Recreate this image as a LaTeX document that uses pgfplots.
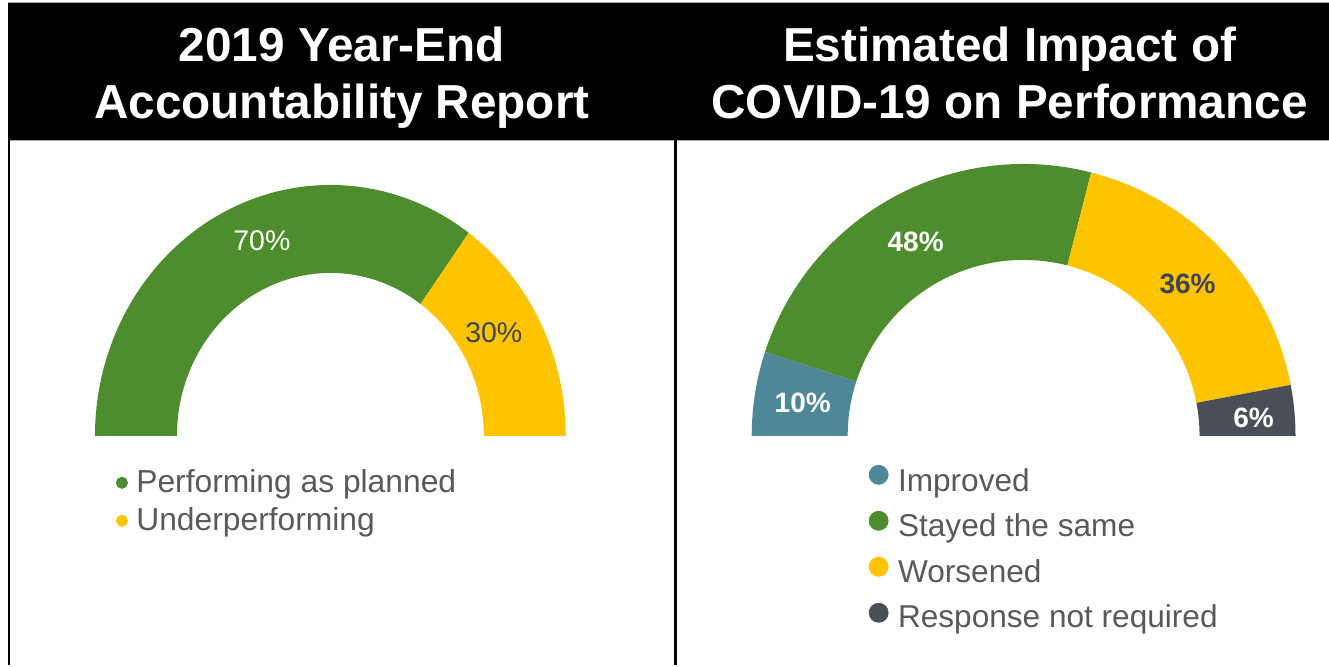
\documentclass[border=0pt]{standalone}
\usepackage{fontspec}
\setmainfont{Liberation Sans}
\usepackage{pgfplots}
\pgfplotsset{compat=1.18}
\usepackage{pgfplotstable}

\definecolor{cgreen}{RGB}{78,141,46}
\definecolor{cyellow}{RGB}{255,196,0}
\definecolor{cteal}{RGB}{77,135,152}
\definecolor{cdark}{RGB}{74,78,86}
\definecolor{clabel}{RGB}{64,68,80}
\definecolor{clegend}{RGB}{89,89,89}

% Data (percent shares)
% Left: Performing as planned 70, Underperforming 30
% Right: Improved 10, Stayed the same 48, Worsened 36, Response not required 6

% ring segment: cx cy rxo ryo rxi ryi p0 p1 color  (p0..p1 cumulative percent, 0% at left)
\newcommand{\ringseg}[9]{%
 \addplot[fill=#9, draw=none, domain=0:200, samples=201, variable=\t]
 ({#1 + ((\t<=100)*#3 + (\t>100)*#5) * cos((\t<=100)*(180-1.8*#7 + 1.8*(#7-#8)*\t/100) + (\t>100)*(180-1.8*#8 + 1.8*(#8-#7)*(\t-101)/99))},
  {#2 + ((\t<=100)*#4 + (\t>100)*#6) * sin((\t<=100)*(180-1.8*#7 + 1.8*(#7-#8)*\t/100) + (\t>100)*(180-1.8*#8 + 1.8*(#8-#7)*(\t-101)/99))});
}

\begin{document}
\begin{tikzpicture}
\begin{axis}[x=0.5pt,y=0.5pt,xmin=0,xmax=1329,ymin=0,ymax=665,hide axis,clip=false]
% full picture extent
\path (axis cs:0,0) rectangle (axis cs:1329,665);
% frame
\fill[black] (axis cs:8,525) rectangle (axis cs:1329,662);
\draw[black!35, line width=0.5pt] (axis cs:8,662.5) -- (axis cs:1329,662.5);
\draw[black!35, line width=0.5pt] (axis cs:8,524.5) -- (axis cs:1329,524.5);
\draw[black, line width=1.2pt] (axis cs:9,0) -- (axis cs:9,525);
\draw[black, line width=1.4pt] (axis cs:676,0) -- (axis cs:676,525);

% titles
\node[white, font=\fontsize{23.85}{28}\selectfont\bfseries, anchor=base] at (axis cs:342,603) {2019 Year-End};
\node[white, font=\fontsize{23.85}{28}\selectfont\bfseries, anchor=base] at (axis cs:342,546) {Accountability Report};
\node[white, font=\fontsize{23.85}{28}\selectfont\bfseries, anchor=base] at (axis cs:1010,603) {Estimated Impact of};
\node[white, font=\fontsize{23.85}{28}\selectfont\bfseries, anchor=base] at (axis cs:1010,546) {COVID-19 on Performance};

% left gauge
\ringseg{330.5}{229}{235.5}{251}{153.5}{163}{0}{70}{cgreen}
\ringseg{330.5}{229}{235.5}{251}{153.5}{163}{70}{100}{cyellow}
\node[white, font=\fontsize{14.25}{16}\selectfont] at (axis cs:262,424) {70\%};
\node[clabel, font=\fontsize{14.25}{16}\selectfont] at (axis cs:494,332) {30\%};

% right gauge
\ringseg{1024}{229}{272}{272}{176}{176}{0}{10}{cteal}
\ringseg{1024}{229}{272}{272}{176}{176}{10}{58}{cgreen}
\ringseg{1024}{229}{272}{272}{176}{176}{58}{94}{cyellow}
\ringseg{1024}{229}{272}{272}{176}{176}{94}{100}{cdark}
\node[white, font=\fontsize{14}{16}\selectfont\bfseries] at (axis cs:916,423) {48\%};
\node[clabel, font=\fontsize{14}{16}\selectfont\bfseries] at (axis cs:1188,381) {36\%};
\node[white, font=\fontsize{14}{16}\selectfont\bfseries] at (axis cs:803,262) {10\%};
\node[white, font=\fontsize{14}{16}\selectfont\bfseries] at (axis cs:1254,247) {6\%};

% left legend
\addplot[only marks, mark=*, mark size=2.8pt, color=cgreen] coordinates {(122,182)};
\addplot[only marks, mark=*, mark size=2.8pt, color=cyellow] coordinates {(122,144)};
\node[clegend, font=\fontsize{15.9}{18}\selectfont, anchor=base west, inner sep=0pt] at (axis cs:136,172) {Performing as planned};
\node[clegend, font=\fontsize{15.9}{18}\selectfont, anchor=base west, inner sep=0pt] at (axis cs:136,134) {Underperforming};

% right legend
\addplot[only marks, mark=*, mark size=4.75pt, color=cteal] coordinates {(879,190)};
\addplot[only marks, mark=*, mark size=4.75pt, color=cgreen] coordinates {(879,144)};
\addplot[only marks, mark=*, mark size=4.75pt, color=cyellow] coordinates {(879,98)};
\addplot[only marks, mark=*, mark size=4.75pt, color=cdark] coordinates {(879,52)};
\node[clegend, font=\fontsize{15.8}{18}\selectfont, anchor=base west, inner sep=0pt] at (axis cs:898,173) {Improved};
\node[clegend, font=\fontsize{15.8}{18}\selectfont, anchor=base west, inner sep=0pt] at (axis cs:898,128) {Stayed the same};
\node[clegend, font=\fontsize{15.8}{18}\selectfont, anchor=base west, inner sep=0pt] at (axis cs:898,82) {Worsened};
\node[clegend, font=\fontsize{15.8}{18}\selectfont, anchor=base west, inner sep=0pt] at (axis cs:898,37) {Response not required};
\end{axis}
\end{tikzpicture}
\end{document}
